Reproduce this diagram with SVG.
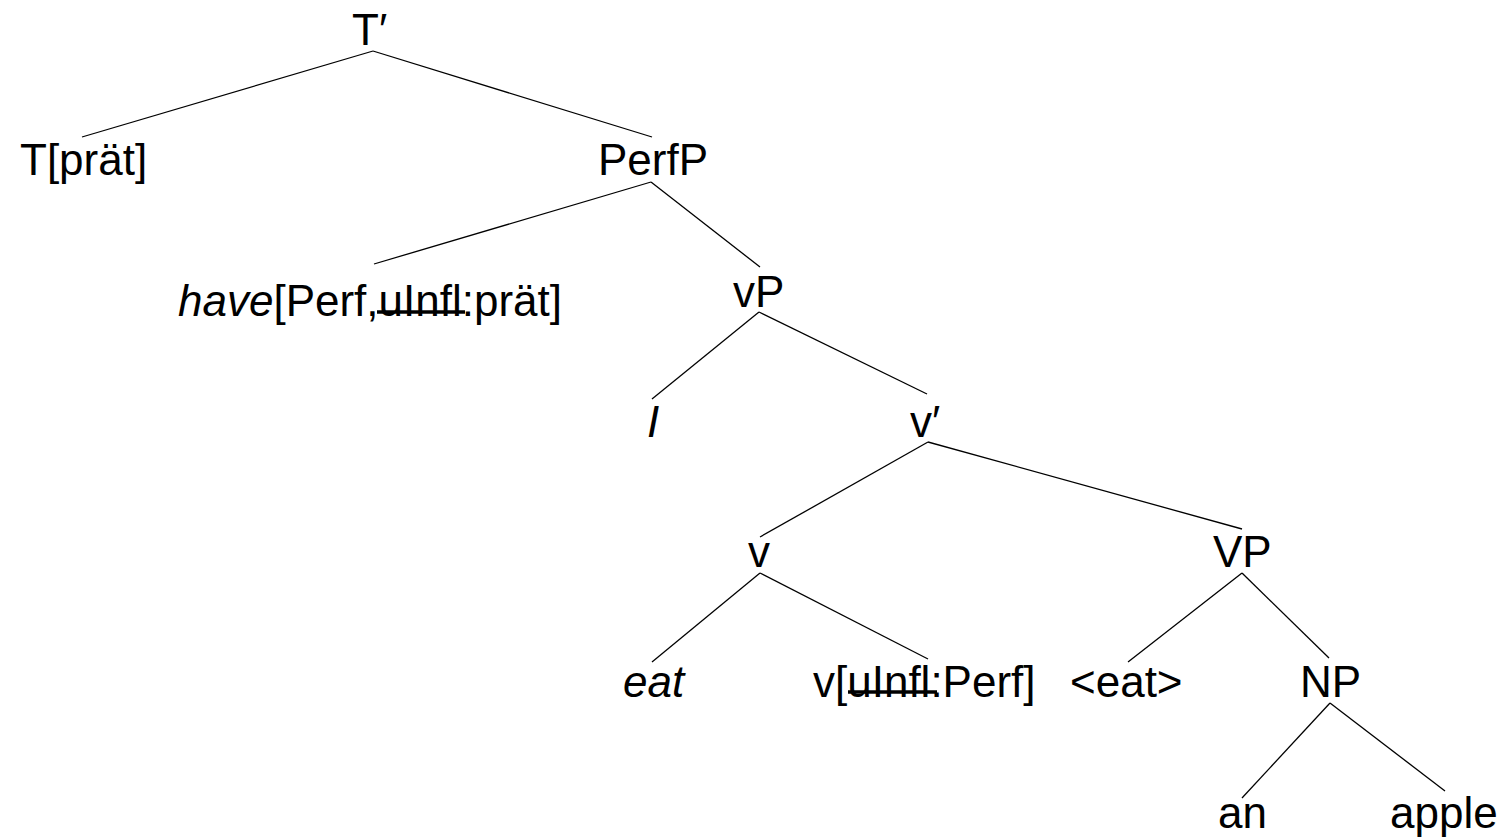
<svg xmlns="http://www.w3.org/2000/svg" width="1507" height="839" viewBox="0 0 1507 839">
<style>
text{font-family:"Liberation Sans",Arial,sans-serif;font-size:44px;fill:#000}
.it{font-style:italic}
.edge{stroke:#000;stroke-width:1.3;fill:none}
.strike{stroke:#000;stroke-width:3.5}
</style>
<rect width="1507" height="839" fill="#fff"/>
<g id="connectors">
<line class="edge" x1="373" y1="51" x2="82" y2="137"/>
<line class="edge" x1="373" y1="51" x2="652" y2="137"/>
<line class="edge" x1="651" y1="182" x2="374" y2="264"/>
<line class="edge" x1="651" y1="182" x2="760" y2="267"/>
<line class="edge" x1="759" y1="312" x2="652" y2="399"/>
<line class="edge" x1="759" y1="312" x2="927" y2="394"/>
<line class="edge" x1="928" y1="442" x2="760" y2="537"/>
<line class="edge" x1="928" y1="442" x2="1242" y2="529"/>
<line class="edge" x1="760" y1="573" x2="652" y2="662"/>
<line class="edge" x1="760" y1="573" x2="928" y2="659"/>
<line class="edge" x1="1242" y1="573" x2="1128" y2="662"/>
<line class="edge" x1="1242" y1="573" x2="1329" y2="658"/>
<line class="edge" x1="1330" y1="703" x2="1242" y2="798"/>
<line class="edge" x1="1330" y1="703" x2="1445" y2="791"/>
</g>
<g id="n-Tbar"><text x="352" y="45">T′</text></g>
<g id="n-T"><text x="20" y="175">T[prät]</text></g>
<g id="n-PerfP"><text x="598" y="175">PerfP</text></g>
<g id="n-have"><text x="178" y="316"><tspan class="it">have</tspan>[Perf,uInfl:prät]</text><line class="strike" x1="377" y1="312" x2="465" y2="312"/></g>
<g id="n-vP"><text x="733" y="307">vP</text></g>
<g id="n-I"><text class="it" x="647" y="437">I</text></g>
<g id="n-vbar"><text x="910" y="437">v′</text></g>
<g id="n-v"><text x="748" y="567">v</text></g>
<g id="n-VP"><text x="1213" y="567">VP</text></g>
<g id="n-eat"><text class="it" x="623" y="697">eat</text></g>
<g id="n-vuinfl"><text x="813" y="697">v[uInfl:Perf]</text><line class="strike" x1="848" y1="692" x2="937" y2="692"/></g>
<g id="n-eattrace"><text x="1070" y="697">&lt;eat&gt;</text></g>
<g id="n-NP"><text x="1300" y="697">NP</text></g>
<g id="n-an"><text x="1218" y="828">an</text></g>
<g id="n-apple"><text x="1390" y="828">apple</text></g>
</svg>
